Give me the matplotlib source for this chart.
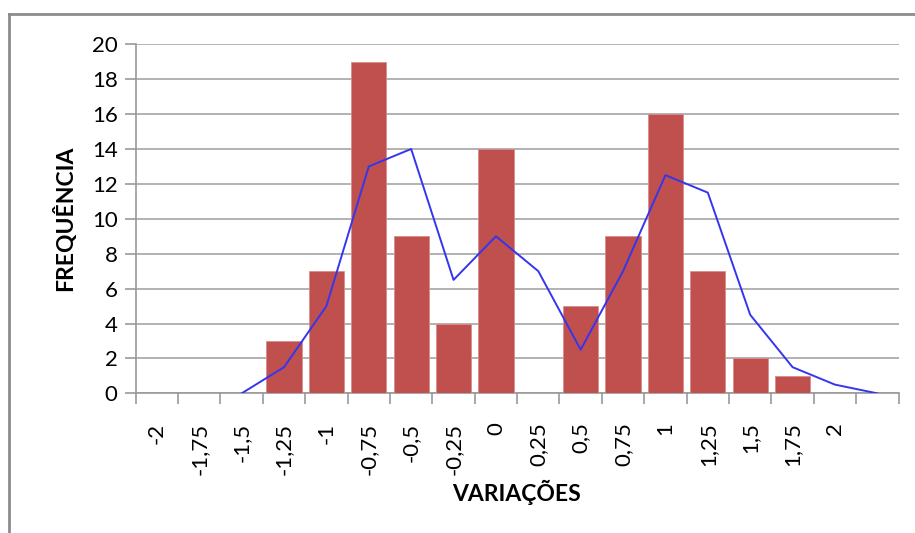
import numpy as np
import matplotlib.pyplot as plt
from matplotlib.lines import Line2D

plt.rcParams['font.family'] = ['Lato', 'DejaVu Sans']

# categories (variações), frequências observadas e curva ajustada
labels = ['-2', '-1,75', '-1,5', '-1,25', '-1', '-0,75', '-0,5', '-0,25', '0',
          '0,25', '0,5', '0,75', '1', '1,25', '1,5', '1,75', '2', '']
freq = [0, 0, 0, 3, 7, 19, 9, 4, 14, 0, 5, 9, 16, 7, 2, 1, 0, 0]
curve = [None, None, 0, 1.5, 5, 13, 14, 6.5, 9, 7, 2.5, 7, 12.5, 11.5, 4.5, 1.5, 0.5, 0]

fig = plt.figure(figsize=(9.15, 5.33), dpi=100)
ax = fig.add_axes([0.1483, 0.262, 0.8337, 0.655])

x = np.arange(len(labels))
ax.bar(x, freq, width=0.83, color='#C0504D', edgecolor='#D98C8A', linewidth=0.6, zorder=3)

cx = [i for i, v in zip(x, curve) if v is not None]
cy = [v for v in curve if v is not None]
ax.plot(cx, cy, color='#3535F0', linewidth=1.4, zorder=4)

ax.set_xlim(-0.5, len(labels) - 0.5)
ax.set_ylim(0, 20)
ax.set_yticks(range(0, 21, 2))
ax.yaxis.grid(True, color='#A6A6A6', linewidth=1.2, zorder=0)

# ticks entre as categorias, rótulos no centro
ax.set_xticks(np.arange(-0.5, len(labels), 1))
ax.set_xticklabels([])
ax.set_xticks(x, minor=True)
ax.set_xticklabels(labels, minor=True, rotation=90, fontsize=16, va='top')
ax.tick_params(axis='x', which='minor', length=0, pad=21)
ax.tick_params(axis='x', which='major', length=8, color='#999999', width=1.2)
ax.tick_params(axis='y', length=8, color='#999999', width=1.2, labelsize=16, pad=5)

for s in ['top', 'right']:
    ax.spines[s].set_visible(False)
for s in ['left', 'bottom']:
    ax.spines[s].set_color('#999999')
    ax.spines[s].set_linewidth(1.2)

ax.set_ylabel('FREQUÊNCIA', fontsize=16.5, fontweight='bold', labelpad=11)
fig.text(0.564, 0.077, 'VARIAÇÕES', fontsize=16.5, fontweight='bold', ha='center', va='center')

# moldura da área do gráfico
fig.add_artist(Line2D([0.0098, 0.0098], [0, 0.974], color='#8C8C8C', linewidth=2))
fig.add_artist(Line2D([0.0098, 1.0], [0.974, 0.974], color='#8C8C8C', linewidth=2))

fig.savefig('out.png', dpi=100)
